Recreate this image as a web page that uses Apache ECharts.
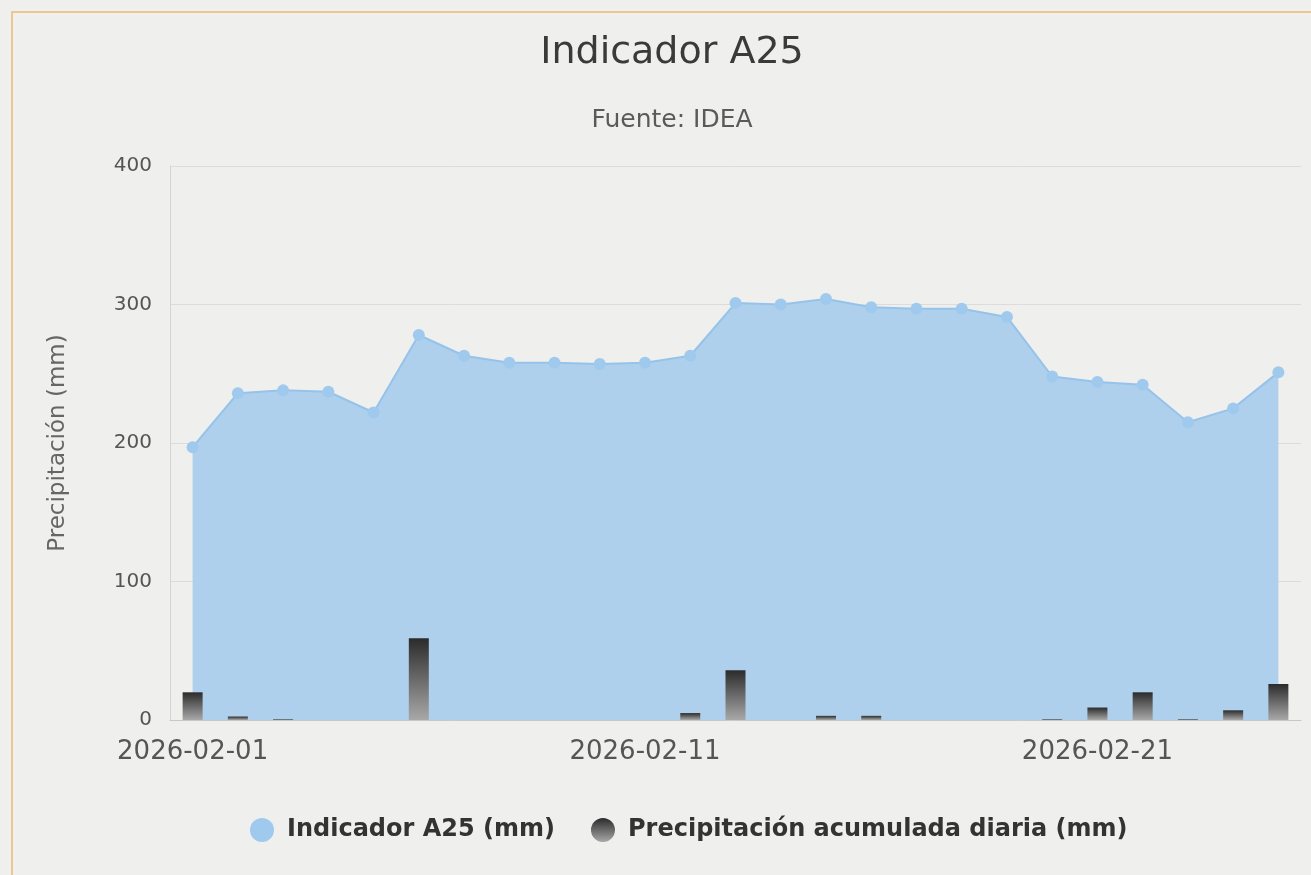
<!DOCTYPE html>
<html>
<head>
<meta charset="utf-8">
<script src="https://cdn.jsdelivr.net/npm/echarts@6/dist/echarts.min.js"></script>
<style>
html,body{margin:0;padding:0;background:#efefed;}
#chart{width:1311px;height:875px;}
</style>
</head>
<body>
<div id="chart"></div>
<script>
const dates = ["2026-02-01","2026-02-02","2026-02-03","2026-02-04","2026-02-05","2026-02-06","2026-02-07","2026-02-08","2026-02-09","2026-02-10","2026-02-11","2026-02-12","2026-02-13","2026-02-14","2026-02-15","2026-02-16","2026-02-17","2026-02-18","2026-02-19","2026-02-20","2026-02-21","2026-02-22","2026-02-23","2026-02-24","2026-02-25"];
const indicadorA25 = [197,236,238,237,222,278,263,258,258,257,258,263,301,300,304,298,297,297,291,248,244,242,215,225,251];
const precipitacion = [20,2.5,0.5,0,0,59,0,0,0,0,0,5,36,0,3,3,0,0,0,0.5,9,20,0.5,7,26];
const yTicks = [0,100,200,300,400];

const FONT = 'DejaVu Sans';
const chart = echarts.init(document.getElementById('chart'));
const barGrad = new echarts.graphic.LinearGradient(0,0,0,1,[{offset:0,color:'#2b2b2b'},{offset:1,color:'#a8a8a8'}]);
chart.setOption({
  backgroundColor:'#efefed',
  textStyle:{fontFamily:FONT},
  graphic:[{type:'rect',shape:{x:12,y:12,width:1320,height:900},style:{fill:'none',stroke:'#f0c596',lineWidth:2},z:-1}],
  title:{
    text:'Indicador A25', subtext:'Fuente: IDEA', left:667, textAlign:'center', top:29, itemGap:36,
    textStyle:{fontFamily:FONT,fontSize:38,fontWeight:'normal',color:'#3a3a3a'},
    subtextStyle:{fontFamily:FONT,fontSize:25,color:'#5a5a5a'}
  },
  legend:{
    top:813, left:245, itemGap:36, itemWidth:24, itemHeight:24, icon:'circle',
    textStyle:{fontFamily:FONT,fontSize:24,fontWeight:'bold',color:'#333',padding:[0,0,0,8]},
    data:['Indicador A25 (mm)','Precipitación acumulada diaria (mm)']
  },
  grid:{left:170,right:10,top:166,bottom:155},
  xAxis:{
    type:'category', data:dates, boundaryGap:true,
    axisLine:{show:true,lineStyle:{color:'#c8c8c8'}},
    axisTick:{show:false},
    axisLabel:{interval:9,fontSize:26,color:'#555',margin:19,fontFamily:FONT}
  },
  yAxis:{
    type:'value', min:0, max:400, interval:100,
    name:'Precipitación (mm)', nameLocation:'middle', nameGap:100, nameRotate:90,
    nameTextStyle:{fontSize:23,color:'#666',fontFamily:FONT},
    axisLine:{show:true,lineStyle:{color:'#d4d4d4'}},
    axisLabel:{fontSize:20,color:'#555',margin:18,fontFamily:FONT,
      formatter:function(v){return yTicks.indexOf(v)>=0?String(v):'';}},
    splitLine:{lineStyle:{color:'#dcdcdc'}}
  },
  series:[
    {
      name:'Indicador A25 (mm)', type:'line', data:indicadorA25,
      symbol:'circle', symbolSize:12,
      itemStyle:{color:'#9fcaee'},
      lineStyle:{color:'#95c3ea',width:2},
      areaStyle:{color:'#aed0ec',opacity:1},
      z:1
    },
    {
      name:'Precipitación acumulada diaria (mm)', type:'bar', data:precipitacion,
      barWidth:20,
      itemStyle:{color:barGrad},
      z:3
    }
  ]
});
</script>
</body>
</html>
